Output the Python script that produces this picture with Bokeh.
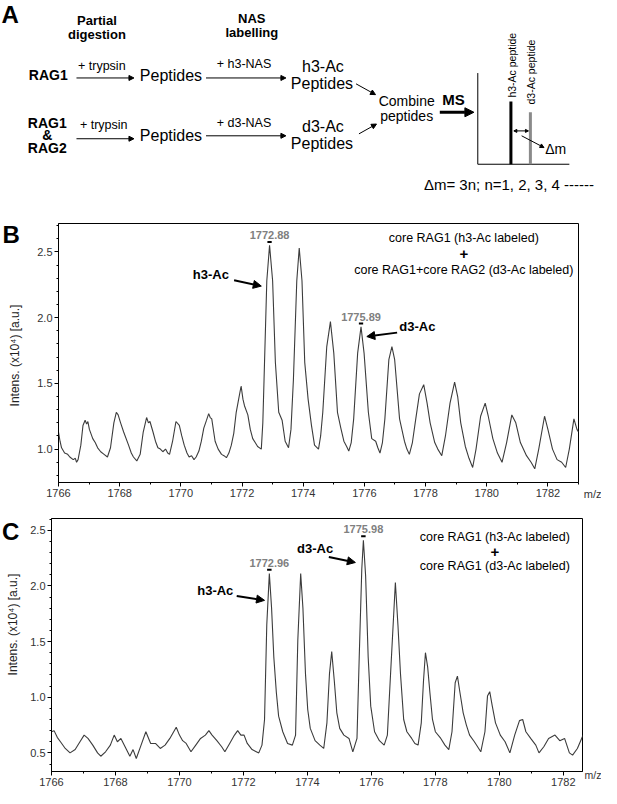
import math
from bokeh.plotting import figure
from bokeh.layouts import column, row
from bokeh.models import (Range1d, Arrow, NormalHead, SingleIntervalTicker,
                          PrintfTickFormatter)
from bokeh.embed import file_html
from bokeh.resources import INLINE
from bokeh.core.properties import value

FONT = "Liberation Sans"

# ---------------- data: panel B spectrum ----------------
mz_b = [1766.00, 1766.05, 1766.10, 1766.20, 1766.30, 1766.37, 1766.48, 1766.55, 1766.59, 1766.64,
        1766.73, 1766.80, 1766.87, 1766.92, 1766.96, 1767.01, 1767.12, 1767.20, 1767.28, 1767.38,
        1767.49, 1767.60, 1767.70, 1767.81, 1767.89, 1767.95, 1768.03, 1768.13, 1768.29, 1768.38,
        1768.45, 1768.56, 1768.67, 1768.77, 1768.88, 1768.94, 1768.99, 1769.09, 1769.17, 1769.25,
        1769.33, 1769.41, 1769.50, 1769.57, 1769.63, 1769.73, 1769.84, 1769.95, 1770.03, 1770.11,
        1770.20, 1770.27, 1770.35, 1770.43, 1770.50, 1770.59, 1770.67, 1770.75, 1770.84, 1770.91,
        1770.96, 1771.01, 1771.12, 1771.22, 1771.33, 1771.41, 1771.49, 1771.57, 1771.65, 1771.73,
        1771.81, 1771.89, 1771.97, 1772.03, 1772.08, 1772.19, 1772.27, 1772.35, 1772.43, 1772.51,
        1772.63, 1772.68, 1772.72, 1772.81, 1772.90, 1773.00, 1773.09, 1773.20, 1773.31, 1773.41,
        1773.52, 1773.60, 1773.68, 1773.79, 1773.87, 1773.96, 1774.05, 1774.16, 1774.27, 1774.37,
        1774.50, 1774.57, 1774.64, 1774.77, 1774.89, 1775.00, 1775.12, 1775.23, 1775.33, 1775.42,
        1775.49, 1775.57, 1775.65, 1775.78, 1775.89, 1775.99, 1776.13, 1776.24, 1776.37, 1776.44,
        1776.51, 1776.59, 1776.67, 1776.80, 1776.90, 1776.99, 1777.15, 1777.31, 1777.39, 1777.47,
        1777.57, 1777.68, 1777.80, 1777.94, 1778.05, 1778.15, 1778.30, 1778.40, 1778.53, 1778.65,
        1778.80, 1778.95, 1779.05, 1779.15, 1779.30, 1779.42, 1779.54, 1779.65, 1779.80, 1779.95,
        1780.05, 1780.20, 1780.35, 1780.50, 1780.65, 1780.82, 1780.95, 1781.10, 1781.30, 1781.45,
        1781.57, 1781.70, 1781.89, 1782.00, 1782.15, 1782.30, 1782.45, 1782.58, 1782.70, 1782.85,
        1782.95, 1783.00]
int_b = [1.13, 1.06, 1.01, 0.97, 0.96, 0.94, 0.92, 0.93, 0.90, 0.92,
         1.03, 1.18, 1.22, 1.19, 1.21, 1.15, 1.08, 1.05, 1.01, 0.98,
         0.96, 0.94, 1.01, 1.20, 1.28, 1.26, 1.20, 1.13, 1.03, 0.97,
         0.94, 0.91, 0.96, 1.13, 1.24, 1.20, 1.21, 1.13, 1.06, 1.01,
         1.00, 0.98, 1.00, 0.97, 0.96, 1.06, 1.21, 1.18, 1.10, 1.03,
         0.97, 0.94, 0.95, 0.92, 0.94, 0.985, 1.06, 1.16, 1.22, 1.27,
         1.24, 1.23, 1.06, 1.00, 0.96, 0.95, 0.935, 0.97, 1.03, 1.12,
         1.28, 1.38, 1.48, 1.38, 1.33, 1.26, 1.15, 1.08, 1.05, 1.02,
         1.00, 1.20, 1.53, 2.28, 2.55, 2.28, 1.66, 1.28, 1.22, 1.06,
         1.01, 1.15, 1.53, 2.28, 2.53, 2.28, 1.66, 1.38, 1.18, 1.03,
         1.00, 1.10, 1.28, 1.78, 1.97, 1.73, 1.28, 1.16, 1.06, 1.02,
         0.985, 1.05, 1.23, 1.73, 1.93, 1.73, 1.28, 1.08, 1.06, 1.01,
         0.97, 1.05, 1.23, 1.68, 1.78, 1.68, 1.23, 1.06, 1.00, 0.96,
         1.05, 1.23, 1.42, 1.49, 1.35, 1.20, 1.05, 1.00, 0.95, 1.10,
         1.35, 1.51, 1.40, 1.20, 1.02, 0.93, 0.86, 1.00, 1.25, 1.35,
         1.25, 1.08, 0.97, 0.90, 1.05, 1.26, 1.20, 1.05, 0.95, 0.90,
         0.85, 1.00, 1.25, 1.15, 1.00, 0.92, 0.90, 0.86, 1.00, 1.23,
         1.15, 1.13]

# ---------------- data: panel C spectrum ----------------
mz_c = [1766.00, 1766.08, 1766.18, 1766.28, 1766.43, 1766.58, 1766.74, 1766.89, 1767.02, 1767.14,
        1767.29, 1767.44, 1767.54, 1767.69, 1767.84, 1767.96, 1768.06, 1768.17, 1768.30, 1768.45,
        1768.55, 1768.65, 1768.80, 1768.95, 1769.10, 1769.25, 1769.40, 1769.55, 1769.70, 1769.90,
        1770.00, 1770.10, 1770.21, 1770.36, 1770.51, 1770.66, 1770.81, 1770.92, 1771.02, 1771.17,
        1771.32, 1771.42, 1771.57, 1771.72, 1771.82, 1771.92, 1772.02, 1772.12, 1772.27, 1772.48,
        1772.58, 1772.66, 1772.73, 1772.81, 1772.88, 1772.95, 1773.03, 1773.10, 1773.23, 1773.38,
        1773.53, 1773.63, 1773.70, 1773.79, 1773.86, 1773.94, 1774.01, 1774.09, 1774.24, 1774.39,
        1774.51, 1774.61, 1774.69, 1774.76, 1774.84, 1774.92, 1775.01, 1775.14, 1775.30, 1775.42,
        1775.55, 1775.62, 1775.70, 1775.75, 1775.82, 1775.90, 1775.98, 1776.10, 1776.25, 1776.40,
        1776.50, 1776.60, 1776.75, 1776.83, 1776.91, 1777.01, 1777.11, 1777.26, 1777.36, 1777.46,
        1777.56, 1777.63, 1777.69, 1777.76, 1777.83, 1777.91, 1778.00, 1778.17, 1778.30, 1778.42,
        1778.52, 1778.62, 1778.69, 1778.77, 1778.87, 1778.97, 1779.07, 1779.22, 1779.42, 1779.55,
        1779.63, 1779.70, 1779.78, 1779.88, 1780.03, 1780.18, 1780.33, 1780.48, 1780.63, 1780.73,
        1780.83, 1780.98, 1781.14, 1781.24, 1781.39, 1781.54, 1781.74, 1781.89, 1782.04, 1782.19,
        1782.29, 1782.44, 1782.62]
int_c = [0.69, 0.70, 0.64, 0.60, 0.54, 0.50, 0.53, 0.60, 0.66, 0.63,
         0.57, 0.50, 0.47, 0.51, 0.57, 0.66, 0.60, 0.63, 0.555, 0.47,
         0.53, 0.45, 0.57, 0.69, 0.585, 0.585, 0.54, 0.57, 0.63, 0.73,
         0.66, 0.61, 0.585, 0.51, 0.57, 0.63, 0.66, 0.70, 0.66, 0.61,
         0.555, 0.51, 0.585, 0.66, 0.70, 0.66, 0.66, 0.585, 0.53, 0.50,
         0.57, 0.80, 1.65, 2.11, 1.80, 1.36, 1.04, 0.83, 0.69, 0.585,
         0.57, 0.66, 1.51, 2.11, 1.80, 1.21, 0.89, 0.72, 0.61, 0.57,
         0.54, 0.77, 1.21, 1.41, 1.15, 0.86, 0.72, 0.66, 0.63, 0.51,
         0.63, 1.36, 2.15, 2.41, 2.09, 1.36, 0.92, 0.69, 0.61, 0.57,
         0.66, 1.21, 2.03, 1.65, 1.21, 0.80, 0.69, 0.63, 0.585, 0.57,
         0.77, 1.15, 1.40, 1.27, 1.04, 0.80, 0.69, 0.63, 0.57, 0.53,
         0.69, 1.13, 1.19, 1.04, 0.86, 0.75, 0.66, 0.60, 0.51, 0.69,
         1.01, 1.05, 0.92, 0.77, 0.66, 0.60, 0.50, 0.66, 0.79, 0.80,
         0.69, 0.63, 0.57, 0.50, 0.555, 0.63, 0.66, 0.61, 0.63, 0.50,
         0.48, 0.54, 0.66]

# labelled peaks
peak_text_b = ["1772.88", "1775.89"]
peak_mz_b = [1772.90, 1775.89]
peak_top_b = [2.55, 1.93]
peak_text_c = ["1772.96", "1775.98"]
peak_mz_c = [1772.81, 1775.75]
peak_top_c = [2.11, 2.41]

legend_b = ["core RAG1 (h3-Ac labeled)", "+", "core RAG1+core RAG2 (d3-Ac labeled)"]
legend_c = ["core RAG1 (h3-Ac labeled)", "+", "core RAG1 (d3-Ac labeled)"]
ylabel = "Intens. (x10\u2074) [a.u.]"

W = 601
HA, HB, HC = 201, 305, 282
COMMON = dict(output_backend="svg", toolbar_location=None, frame_align=False)


def T(p, x, y, s, size, bold=False, color="black", align="center", angle=0.0):
    p.text(x=[x], y=[y], text=[s], text_font=value(FONT), text_font_size=f"{size}px",
           text_font_style="bold" if bold else "normal", text_color=color,
           text_align=align, text_baseline="middle", angle=angle)


def A(p, x0, y0, x1, y1, lw=1.0, hs=6, both=False):
    kw = {}
    if both:
        kw["start"] = NormalHead(size=hs, fill_color="black", line_color="black")
    p.add_layout(Arrow(x_start=x0, y_start=y0, x_end=x1, y_end=y1, line_width=lw,
                       line_color="black",
                       end=NormalHead(size=hs, fill_color="black", line_color="black"), **kw))


def blank(width, height, xmax=None, ymax=None):
    f = figure(width=width, height=height,
               x_range=Range1d(0, xmax if xmax else width),
               y_range=Range1d(ymax if ymax else height, 0),
               x_axis_location=None, y_axis_location=None, min_border=0,
               outline_line_color=None, **COMMON)
    f.grid.visible = False
    return f


# ---------------- panel A (schematic, reference-pixel coordinates) ----------------
pa = blank(W, HA, xmax=617, ymax=205)

T(pa, 10, 14, "A", 24, bold=True)
T(pa, 99, 20, "Partial", 13, bold=True)
T(pa, 99, 35, "digestion", 13, bold=True)
T(pa, 258, 18, "NAS", 13, bold=True)
T(pa, 258, 33, "labelling", 13, bold=True)

T(pa, 49, 76, "RAG1", 14, bold=True)
T(pa, 104, 67, "+ trypsin", 12.5)
A(pa, 78, 79, 137, 79, hs=5)
T(pa, 175, 76, "Peptides", 16)
T(pa, 250, 65, "+ h3-NAS", 12.5)
A(pa, 211, 79, 293, 79, hs=5)
T(pa, 331, 67, "h3-Ac", 16)
T(pa, 330, 85, "Peptides", 16)

T(pa, 48, 125, "RAG1", 14, bold=True)
T(pa, 48, 137, "&", 14, bold=True)
T(pa, 48, 150, "RAG2", 14, bold=True)
T(pa, 106, 127, "+ trypsin", 12.5)
A(pa, 78, 141, 137, 141, hs=5)
T(pa, 175, 138, "Peptides", 16)
T(pa, 250, 125, "+ d3-NAS", 12.5)
A(pa, 211, 138, 293, 138, hs=5)
T(pa, 331, 128, "d3-Ac", 16)
T(pa, 330, 146, "Peptides", 16)

A(pa, 365, 85, 385, 96, hs=5)
A(pa, 368, 136, 386, 126, hs=5)
T(pa, 417, 102, "Combine", 14)
T(pa, 417, 118, "peptides", 14)
T(pa, 465, 101, "MS", 15, bold=True)
A(pa, 451, 114, 486, 114, lw=3, hs=9)

pa.line(x=[490, 490, 584], y=[74, 167, 167], line_color="black", line_width=1)
pa.segment(x0=[524], y0=[103], x1=[524], y1=[167], line_color="black", line_width=3)
pa.segment(x0=[544], y0=[114], x1=[544], y1=[167], line_color="#8a8a8a", line_width=3)
T(pa, 525, 66, "h3-Ac peptide", 10.5, angle=math.pi / 2)
T(pa, 545, 73, "d3-Ac peptide", 10.5, angle=math.pi / 2)
A(pa, 527, 133, 542, 133, hs=3, both=True)
A(pa, 535, 138, 558, 150, hs=4)
T(pa, 570, 151, "\u0394m", 14)
T(pa, 522, 188, "\u0394m= 3n; n=1, 2, 3, 4 ------", 15)


# ---------------- spectra ----------------
def spectrum(width, height, xr, yr, bl, br, bt, bb):
    p = figure(width=width, height=height, x_range=Range1d(*xr), y_range=Range1d(*yr),
               min_border_left=bl, min_border_right=br, min_border_top=bt,
               min_border_bottom=bb, **COMMON)
    p.grid.visible = False
    p.outline_line_color = "black"
    p.outline_line_width = 1
    p.xaxis.ticker = SingleIntervalTicker(interval=2, num_minor_ticks=2)
    p.yaxis.ticker = SingleIntervalTicker(interval=0.5, num_minor_ticks=5)
    p.yaxis.formatter = PrintfTickFormatter(format="%.1f")
    for ax in (p.xaxis[0], p.yaxis[0]):
        ax.axis_line_color = "black"
        ax.major_tick_line_color = "black"
        ax.minor_tick_line_color = "black"
        ax.major_tick_out = 4
        ax.major_tick_in = 0
        ax.minor_tick_out = 2
        ax.minor_tick_in = 0
        ax.major_label_text_font = FONT
        ax.major_label_text_font_size = "11px"
        ax.major_label_text_color = "#333333"
        ax.major_label_standoff = 2
    return p


def decorate(p, mz, inten, ptext, pmz, ptop, legend, h3, d3, leg_xy, leg_dy, bar_off, lab_off):
    p.line(mz, inten, line_color="#3c3c3c", line_width=1.1)
    for t, x, y in zip(ptext, pmz, ptop):
        p.segment(x0=[x - 0.07], x1=[x + 0.07], y0=[y + bar_off], y1=[y + bar_off],
                  line_color="black", line_width=2)
        T(p, x, y + lab_off, t, 11, bold=True, color="#808080")
    for (tx, ty, x0, y0, x1, y1, s) in (h3, d3):
        T(p, tx, ty, s, 13, bold=True)
        A(p, x0, y0, x1, y1, lw=2, hs=8)
    lx, ly = leg_xy
    for i, s in enumerate(legend):
        if s == "+":
            T(p, lx, ly - i * leg_dy, s, 15, bold=True)
        else:
            T(p, lx, ly - i * leg_dy, s, 12.5)


def left_panel(width, height, letter, letter_xy, ylab_xy):
    f = blank(width, height)
    T(f, letter_xy[0], letter_xy[1], letter, 24, bold=True)
    T(f, ylab_xy[0], ylab_xy[1], ylabel, 12, color="#222222", angle=math.pi / 2)
    return f


def right_panel(width, height, xy, size=11, align="center"):
    f = blank(width, height)
    T(f, xy[0], xy[1], "m/z", size, color="#333333", align=align)
    return f


# panel B row: 24 | 559 | 18
pb = spectrum(559, HB, (1766, 1783), (0.746, 2.716), 34, 5, 22, 24)
decorate(pb, mz_b, int_b, peak_text_b, peak_mz_b, peak_top_b, legend_b,
         (1770.98, 2.33, 1771.74, 2.284, 1772.63, 2.24, "h3-Ac"),
         (1777.73, 1.93, 1777.07, 1.886, 1776.08, 1.856, "d3-Ac"),
         (1779.25, 2.604), 0.119, 0.025, 0.078)
lb = left_panel(24, HB, "B", (10.7, 33), (14.6, 154))
rb = right_panel(18, HB, (9.2, 292))

# panel C row: 24 | 559 | 18
pc = spectrum(559, HC, (1766, 1782.6), (0.333, 2.605), 27, 1, 12, 17)
decorate(pc, mz_c, int_c, peak_text_c, peak_mz_c, peak_top_c, legend_c,
         (1771.12, 1.96, 1771.79, 1.91, 1772.66, 1.87, "h3-Ac"),
         (1774.24, 2.34, 1774.67, 2.26, 1775.5, 2.21, "d3-Ac"),
         (1779.86, 2.44), 0.133, 0.035, 0.098)
lc = left_panel(24, HC, "C", (10.2, 25), (12.7, 118))
rc = right_panel(18, HC, (9.5, 268), size=10.5)

layout = column(pa, row(lb, pb, rb), row(lc, pc, rc))
open("out.html", "w").write(file_html(layout, INLINE))
